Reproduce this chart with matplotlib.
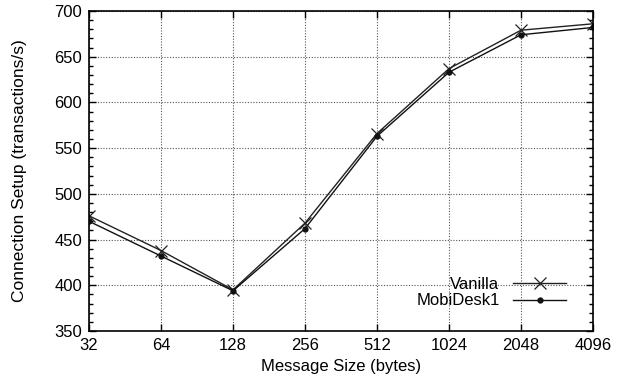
import matplotlib
matplotlib.use("Agg")
import matplotlib.pyplot as plt
from matplotlib.ticker import MultipleLocator

sizes = ["32", "64", "128", "256", "512", "1024", "2048", "4096"]
vanilla = [476, 438, 395, 468, 566, 637, 679, 686]
mobidesk = [470, 432, 394, 462, 563, 633, 674, 682]

plt.rcParams["font.family"] = ["Liberation Sans", "DejaVu Sans"]

fig = plt.figure(figsize=(6.2, 3.82), dpi=100)
ax = fig.add_axes([89 / 620, 1 - 331 / 382, (593 - 89) / 620, (331 - 11) / 382])

x = list(range(len(sizes)))
ax.plot(x, vanilla, color="#222222", lw=1.0, marker="x", ms=9, mew=0.9,
        label="Vanilla")
ax.plot(x, mobidesk, color="#111111", lw=1.0, marker="o", ms=3.5,
        label="MobiDesk1")

ax.set_xlim(0, len(sizes) - 1)
ax.set_ylim(350, 700)
ax.set_xticks(x)
ax.set_xticklabels(sizes)
ax.yaxis.set_major_locator(MultipleLocator(50))
ax.yaxis.set_minor_locator(MultipleLocator(10))
ax.tick_params(which="both", direction="in", top=True, right=True,
               labelsize=12, pad=5)
ax.tick_params(which="major", length=5, width=1)
ax.tick_params(which="minor", length=3, width=1)
ax.grid(True, which="major", color="#555555", linestyle=(0, (1, 1.5)), lw=0.8)
for s in ax.spines.values():
    s.set_linewidth(1.2)

ax.set_xlabel("Message Size (bytes)", fontsize=12, labelpad=4)
ax.set_ylabel("Connection Setup (transactions/s)", fontsize=12.5, labelpad=20)

leg = ax.legend(loc="lower right", bbox_to_anchor=(0.96, 0.05), frameon=False,
                markerfirst=False, fontsize=12, handlelength=3.2,
                handletextpad=0.8, labelspacing=0.1, borderaxespad=0)
for t in leg.get_texts():
    t.set_ha("right")

fig.savefig("out.png", dpi=100)
